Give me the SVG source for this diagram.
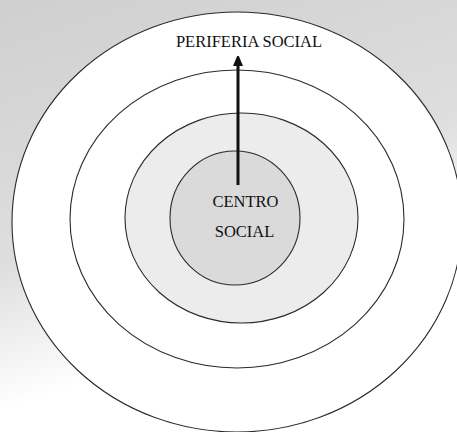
<svg xmlns="http://www.w3.org/2000/svg" width="457" height="432" viewBox="0 0 457 432">
  <defs>
    <linearGradient id="bg" x1="0" y1="0" x2="0.35" y2="1">
      <stop offset="0" stop-color="#cfcfcf"/>
      <stop offset="0.55" stop-color="#dedede"/>
      <stop offset="0.85" stop-color="#ffffff"/>
    </linearGradient>
    <marker id="arrowhead" viewBox="0 0 10 14" refX="2" refY="7" markerWidth="10" markerHeight="14" markerUnits="userSpaceOnUse" orient="auto">
      <path d="M0,2 L12,7 L0,12 Z" fill="#111"/>
    </marker>
  </defs>
  <style>
    .ring { stroke: #2a2a2a; stroke-width: 1.1; }
    .label { font-family: "Liberation Serif", "Times New Roman", serif; font-size: 16.5px; fill: #111; text-anchor: middle; }
  </style>
  <rect x="0" y="0" width="457" height="432" fill="url(#bg)"/>
  <g id="periferia">
    <ellipse class="ring" cx="237" cy="222" rx="225" ry="210" fill="#ffffff"/>
    <text class="label" x="249" y="47">PERIFERIA SOCIAL</text>
  </g>
  <g id="ring2">
    <ellipse class="ring" cx="237" cy="219" rx="167" ry="149" fill="#ffffff"/>
  </g>
  <g id="ring3">
    <ellipse class="ring" cx="241.5" cy="218" rx="116.5" ry="105" fill="#ececec"/>
  </g>
  <g id="centro">
    <ellipse class="ring" cx="235" cy="218" rx="65" ry="67" fill="#dadada"/>
    <text class="label" x="245.5" y="207">CENTRO</text>
    <text class="label" x="244.5" y="237">SOCIAL</text>
  </g>
  <g id="connectors">
    <line x1="238" y1="185" x2="238" y2="64" stroke="#111" stroke-width="3" marker-end="url(#arrowhead)"/>
  </g>
</svg>
